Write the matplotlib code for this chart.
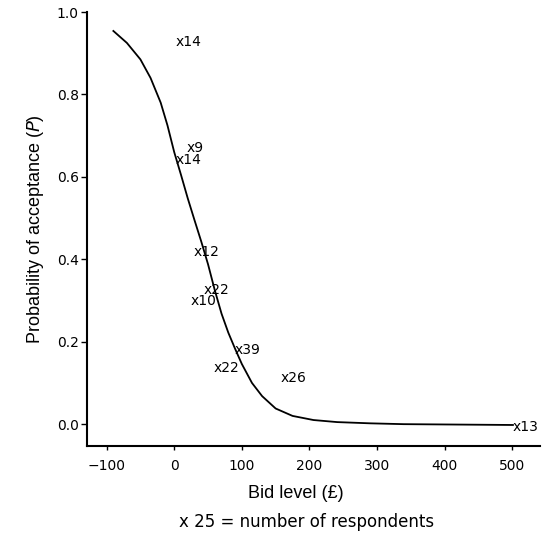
import matplotlib
matplotlib.use("Agg")
import matplotlib.pyplot as plt

# fitted curve
curve_bid = [-90, -70, -50, -35, -20, -10, 0, 10, 20, 30, 40, 50, 60, 70, 80, 90,
             100, 115, 130, 150, 175, 206, 241, 290, 339, 501]
curve_p = [0.954, 0.925, 0.885, 0.840, 0.780, 0.725, 0.660, 0.605, 0.548, 0.495,
           0.443, 0.388, 0.325, 0.268, 0.222, 0.183, 0.146, 0.100, 0.068, 0.038,
           0.020, 0.010, 0.005, 0.002, 0.0, -0.002]

# observed points (label starts at the point), with number of respondents
obs_bid = [1.5, 19, 1.5, 28, 43, 24, 89, 58, 158, 501]
obs_p = [0.927, 0.67, 0.641, 0.418, 0.325, 0.298, 0.18, 0.136, 0.112, -0.007]
obs_n = [14, 9, 14, 12, 22, 10, 39, 22, 26, 13]

x_ticks = [-100, 0, 100, 200, 300, 400, 500]
y_ticks = [0.0, 0.2, 0.4, 0.6, 0.8, 1.0]

fig = plt.figure(figsize=(5.43, 5.47), dpi=100)
ax = fig.add_axes([87/543, 1 - 446/547, (540 - 87)/543, (446 - 12)/547])

ax.plot(curve_bid, curve_p, color='black', linewidth=1.3)

for b, p, n in zip(obs_bid, obs_p, obs_n):
    ax.text(b, p, f"x{n}", ha='left', va='center', fontsize=10,
            family='DejaVu Sans')

ax.set_xlim(-129, 541)
ax.set_ylim(-0.053, 1.0)
ax.set_xticks(x_ticks)
ax.set_yticks(y_ticks)
ax.set_yticklabels([f"{v:.1f}" for v in y_ticks])

for s in ['top', 'right']:
    ax.spines[s].set_visible(False)
for s in ['left', 'bottom']:
    ax.spines[s].set_linewidth(1.5)

ax.tick_params(axis='y', direction='out', length=4, width=1, labelsize=10, pad=2)
ax.tick_params(axis='x', direction='out', length=3, width=1, labelsize=10, pad=6)
for lab in ax.get_xticklabels() + ax.get_yticklabels():
    lab.set_family('DejaVu Sans')

ax.set_ylabel("Probability of acceptance ($\\it{P}$)", fontsize=13,
              family='Liberation Sans', labelpad=8)
ax.set_xlabel("Bid level (£)", fontsize=13, family='Liberation Sans', labelpad=6)
ax.xaxis.set_label_coords(0.46, -0.09)

fig.text(0.565, 1 - 522/547, "x 25 = number of respondents", ha='center',
         va='center', fontsize=12, family='DejaVu Sans')

fig.savefig("out.png", dpi=100)
